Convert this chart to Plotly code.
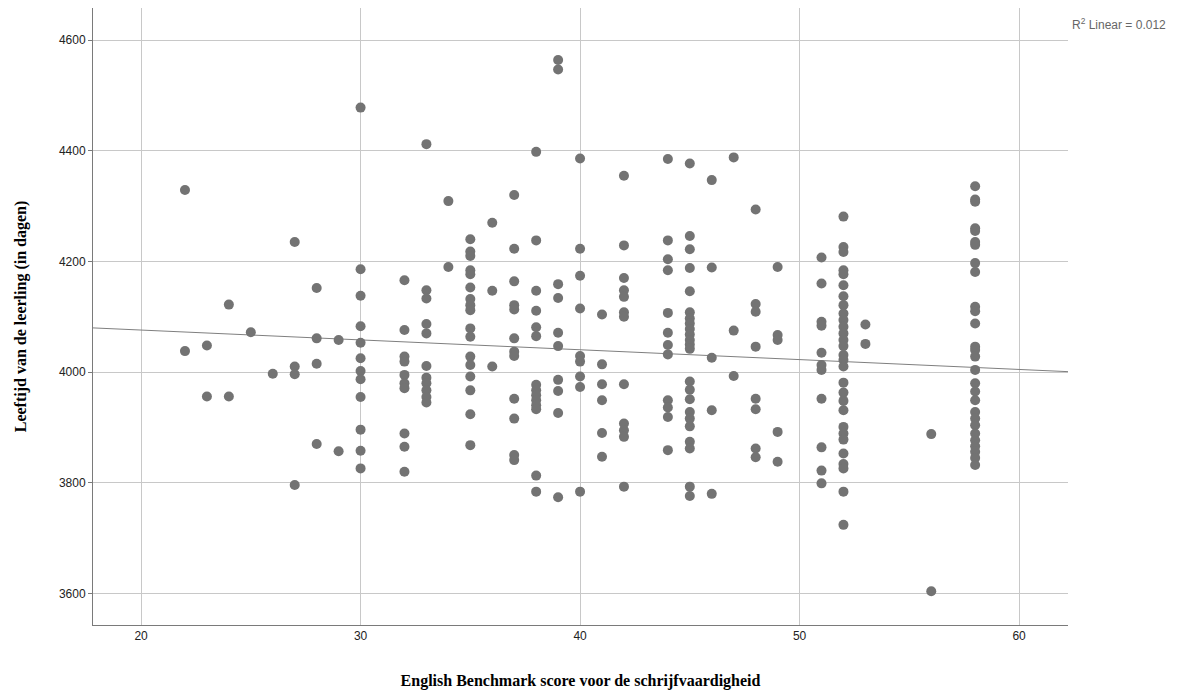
import numpy as np
import plotly.graph_objects as go

# English Benchmark writing score per pupil (x) and age in days (y), grouped by score
score_groups = [22, 23, 24, 25, 26, 27, 28, 29, 30, 32, 33, 34, 35, 36, 37, 38, 39, 40,
                41, 42, 44, 45, 46, 47, 48, 49, 51, 52, 53, 56, 58]
age_groups = [
    [4329, 4038],                                                      # 22
    [4048, 3956],                                                      # 23
    [4122, 3956],                                                      # 24
    [4072],                                                            # 25
    [3997],                                                            # 26
    [4235, 4010, 3996, 3796],                                          # 27
    [4152, 4061, 4015, 3870],                                          # 28
    [4058, 3857],                                                      # 29
    [4478, 4186, 4138, 4083, 4053, 4025, 4002, 3987, 3955, 3896, 3858, 3826],  # 30
    [4166, 4076, 4028, 4019, 3995, 3980, 3971, 3889, 3865, 3820],      # 32
    [4412, 4148, 4133, 4087, 4070, 4011, 3990, 3980, 3967, 3955, 3945],  # 33
    [4309, 4190],                                                      # 34
    [4240, 4218, 4210, 4184, 4177, 4153, 4132, 4121, 4112, 4079, 4064,
     4028, 4013, 3992, 3967, 3924, 3868],                              # 35
    [4270, 4147, 4010],                                                # 36
    [4320, 4223, 4164, 4121, 4113, 4061, 4037, 4029, 3952, 3916, 3850, 3841],  # 37
    [4398, 4238, 4147, 4111, 4081, 4065, 3977, 3967, 3958, 3949, 3940,
     3933, 3813, 3784],                                                # 38
    [4564, 4547, 4159, 4134, 4071, 4047, 3986, 3966, 3926, 3774],      # 39
    [4386, 4223, 4174, 4115, 4029, 4019, 3992, 3973, 3784],            # 40
    [4104, 4014, 3978, 3949, 3890, 3847],                              # 41
    [4355, 4229, 4170, 4148, 4136, 4108, 4100, 3978, 3907, 3895, 3883, 3793],  # 42
    [4385, 4238, 4204, 4184, 4107, 4071, 4049, 4032, 3949, 3936, 3919, 3859],  # 44
    [4377, 4246, 4222, 4188, 4146, 4108, 4097, 4088, 4078, 4068, 4058, 4050,
     4042, 3983, 3968, 3951, 3928, 3916, 3902, 3874, 3862, 3793, 3776],  # 45
    [4347, 4189, 4026, 3931, 3780],                                    # 46
    [4388, 4075, 3993],                                                # 47
    [4294, 4123, 4109, 4046, 3952, 3933, 3862, 3846],                  # 48
    [4190, 4067, 4058, 3892, 3838],                                    # 49
    [4207, 4160, 4091, 4084, 4035, 4013, 4004, 3952, 3864, 3822, 3799],  # 51
    [4281, 4226, 4217, 4184, 4177, 4157, 4137, 4121, 4106, 4094, 4082, 4070,
     4058, 4047, 4031, 4022, 4010, 3981, 3963, 3948, 3931, 3901, 3889, 3878,
     3853, 3834, 3826, 3784, 3724],                                    # 52
    [4086, 4051],                                                      # 53
    [3888, 3604],                                                      # 56
    [4336, 4312, 4308, 4260, 4255, 4235, 4230, 4197, 4181, 4118, 4110, 4088,
     4046, 4040, 4028, 4004, 3980, 3965, 3949, 3928, 3916, 3904, 3889, 3877,
     3866, 3856, 3845, 3832],                                          # 58
]

# reported linear fit (intercept, slope) of age on score
fit_intercept = 4111.6
fit_slope = -1.78

x_ticks = [20, 30, 40, 50, 60]
y_ticks = [3600, 3800, 4000, 4200, 4400, 4600]
x_range = [17.81, 62.23]
y_range = [3543, 4658]
r2_label = "R<sup>2</sup> Linear = 0.012"

x_vals = np.concatenate([[s] * len(a) for s, a in zip(score_groups, age_groups)])
y_vals = np.concatenate([np.array(a, dtype=float) for a in age_groups])

fit_x = np.array(x_range)
fit_y = fit_intercept + fit_slope * fit_x

fig = go.Figure()
fig.add_trace(go.Scatter(
    x=fit_x, y=fit_y, mode="lines",
    line=dict(color="#7f7f7f", width=1), hoverinfo="skip", showlegend=False,
))
fig.add_trace(go.Scatter(
    x=x_vals, y=y_vals, mode="markers",
    marker=dict(color="#737373", size=10, line=dict(width=0)),
    showlegend=False,
))

title_font = dict(family="Liberation Serif, Times New Roman, serif", size=16, color="#000000")

fig.update_layout(
    width=1197, height=695,
    margin=dict(l=93, r=129, t=8, b=62),
    plot_bgcolor="white", paper_bgcolor="white",
    font=dict(family="Liberation Sans, Arial, sans-serif", size=12, color="#222222"),
    xaxis=dict(
        range=x_range, tickvals=x_ticks, showgrid=True, gridcolor="#c8c8c8", gridwidth=1.3,
        zeroline=False, showline=True, linecolor="#7a7a7a", linewidth=1,
        ticks="", tickfont=dict(size=12, color="#222222"),
        title=dict(text="<b>English Benchmark score voor de schrijfvaardigheid</b>",
                   font=title_font, standoff=32),
    ),
    yaxis=dict(
        range=y_range, tickvals=y_ticks, showgrid=True, gridcolor="#c8c8c8", gridwidth=1.3,
        zeroline=False, showline=True, linecolor="#7a7a7a", linewidth=1,
        ticks="outside", ticklen=4, tickcolor="#7a7a7a", tickfont=dict(size=12, color="#222222"),
        title=dict(text="<b>Leeftijd van de leerling (in dagen)</b>",
                   font=title_font, standoff=28),
    ),
    annotations=[dict(
        text=r2_label, xref="paper", yref="paper", x=1.0, y=1.0,
        xanchor="left", yanchor="top", xshift=2, yshift=-6, showarrow=False,
        font=dict(family="Liberation Sans, Arial, sans-serif", size=12, color="#666666"),
    )],
)

fig.write_html("out.html")
